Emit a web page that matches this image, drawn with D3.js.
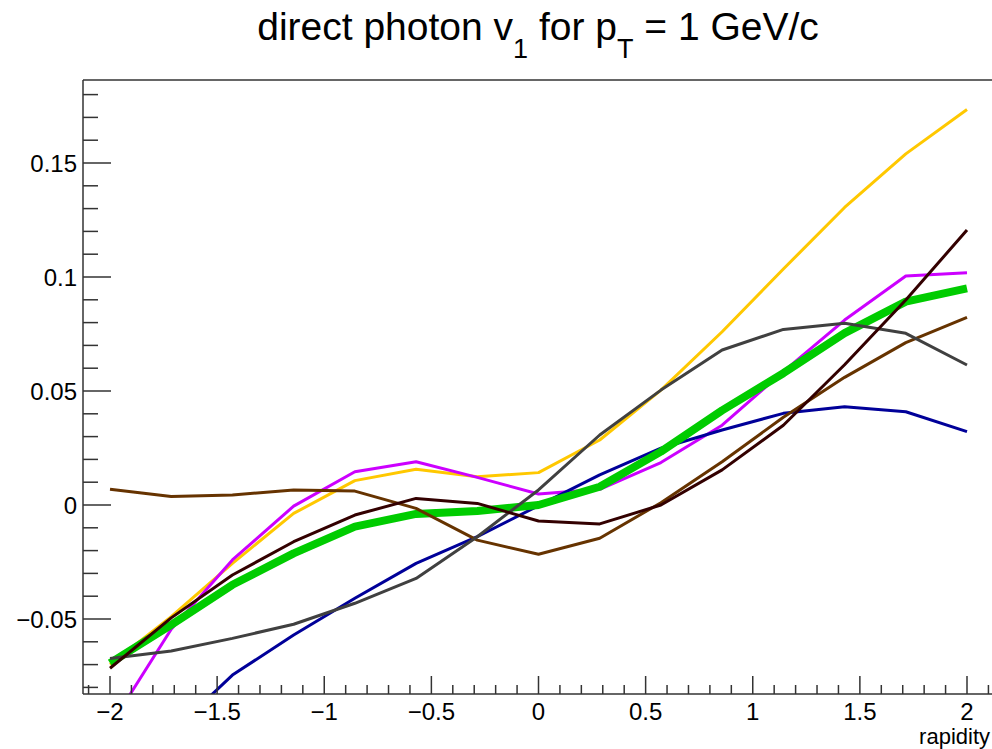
<!DOCTYPE html>
<html><head><meta charset="utf-8">
<script src="https://cdn.jsdelivr.net/npm/d3@7"></script>
<style>body{margin:0;background:#fff}svg{display:block;font-family:"Liberation Sans",Arial,sans-serif}</style>
</head><body>
<script>
const rapidity = [-2, -1.7143, -1.4286, -1.1429, -0.8571, -0.5714, -0.2857, 0, 0.2857, 0.5714, 0.8571, 1.1429, 1.4286, 1.7143, 2];
const yellowV  = [-0.070, -0.049, -0.0256, -0.0037, 0.0107, 0.0157, 0.0124, 0.0142, 0.0285, 0.0504, 0.0760, 0.1035, 0.1305, 0.1540, 0.1735];
const magentaV = [-0.097, -0.0545, -0.0241, -0.0005, 0.0146, 0.0190, 0.0121, 0.0048, 0.0069, 0.0186, 0.0350, 0.0585, 0.0811, 0.1004, 0.1019];
const blueV    = [-0.124, -0.100, -0.0746, -0.0570, -0.0409, -0.0256, -0.0139, -0.0003, 0.0132, 0.0249, 0.0329, 0.0402, 0.0431, 0.0409, 0.0322];
const grayV    = [-0.0673, -0.0640, -0.0585, -0.0523, -0.0431, -0.0322, -0.0139, 0.0066, 0.0307, 0.0504, 0.0680, 0.0770, 0.0797, 0.0753, 0.0614];
const brownV   = [0.0069, 0.0037, 0.0044, 0.0066, 0.0061, -0.0015, -0.0154, -0.0216, -0.0146, 0.0010, 0.0190, 0.0385, 0.0560, 0.0712, 0.0823];
const darkV    = [-0.0716, -0.0495, -0.0307, -0.0161, -0.0044, 0.0029, 0.0007, -0.0070, -0.0083, 0.0000, 0.0154, 0.0350, 0.0615, 0.0899, 0.1206];
const greenV   = [-0.0694, -0.0526, -0.0350, -0.0212, -0.0095, -0.0039, -0.0026, 0.0000, 0.0080, 0.0234, 0.0415, 0.0578, 0.0754, 0.0892, 0.0950];
const yTickLabels = ["\u22120.05", "0", "0.05", "0.1", "0.15"];
const yTickValues = [-0.05, 0, 0.05, 0.1, 0.15];
const xTickValues = [-2, -1.5, -1, -0.5, 0, 0.5, 1, 1.5, 2];
const xTickLabels = ["\u22122", "\u22121.5", "\u22121", "\u22120.5", "0", "0.5", "1", "1.5", "2"];

const series = [
  {vals: yellowV, color: "#ffc800", w: 3},
  {vals: magentaV, color: "#cc00ff", w: 3},
  {vals: blueV, color: "#000099", w: 3},
  {vals: greenV, color: "#00cc00", w: 8},
  {vals: brownV, color: "#663300", w: 3},
  {vals: grayV, color: "#404040", w: 3},
  {vals: darkV, color: "#330000", w: 3}
];

const W = 992, H = 749;
const L = 83, R = 998, T = 80, B = 694;
const x = d3.scaleLinear().domain([-2, 2]).range([110, 967]);
const y = d3.scaleLinear().domain([0, 0.15]).range([505, 163]);

const svg = d3.select("body").append("svg").attr("width", W).attr("height", H);
svg.append("defs").append("clipPath").attr("id", "clip")
  .append("rect").attr("x", L).attr("y", T).attr("width", R - L).attr("height", B - T);

const line = d3.line().x((d, i) => x(rapidity[i])).y(d => y(d));
const g = svg.append("g").attr("clip-path", "url(#clip)");
series.forEach(s => {
  g.append("path").attr("d", line(s.vals)).attr("fill", "none")
    .attr("stroke", s.color).attr("stroke-width", s.w).attr("stroke-linejoin", "round");
});

// frame
const ax = svg.append("g").attr("stroke", "#333").attr("stroke-width", 1.5);
ax.append("line").attr("x1", L).attr("x2", R).attr("y1", T).attr("y2", T);
ax.append("line").attr("x1", L).attr("x2", L).attr("y1", T).attr("y2", B);
ax.append("line").attr("x1", L).attr("x2", R).attr("y1", B).attr("y2", B);

// y ticks
const yMinor = d3.range(-8, 19).map(k => k / 100);
yMinor.forEach(v => {
  const major = Math.abs(Math.round(v * 100) % 5) === 0;
  ax.append("line").attr("x1", L).attr("x2", L + (major ? 28 : 15)).attr("y1", y(v)).attr("y2", y(v));
});
// x ticks
const xMinor = d3.range(-21, 22).map(k => k / 10);
xMinor.forEach(v => {
  const major = Math.abs(Math.round(v * 10) % 5) === 0;
  ax.append("line").attr("x1", x(v)).attr("x2", x(v)).attr("y1", B).attr("y2", B - (major ? 18 : 9));
});

svg.selectAll(".yl").data(yTickValues).enter().append("text")
  .attr("x", 77).attr("y", d => y(d)).attr("dy", "0.36em").attr("text-anchor", "end")
  .attr("font-size", 24).attr("fill", "#000").text((d, i) => yTickLabels[i]);
svg.selectAll(".xl").data(xTickValues).enter().append("text")
  .attr("x", d => x(d)).attr("y", 720).attr("text-anchor", "middle")
  .attr("font-size", 24).attr("fill", "#000").text((d, i) => xTickLabels[i]);
svg.append("text").attr("x", 990).attr("y", 744).attr("text-anchor", "end")
  .attr("font-size", 22).attr("fill", "#000").text("rapidity");

const title = svg.append("text").attr("x", 538).attr("y", 40).attr("text-anchor", "middle")
  .attr("font-size", 39).attr("fill", "#000");
title.append("tspan").text("direct photon v");
title.append("tspan").attr("dy", 18).attr("font-size", 27).text("1");
title.append("tspan").attr("dy", -18).text(" for p");
title.append("tspan").attr("dy", 18).attr("font-size", 27).text("T");
title.append("tspan").attr("dy", -18).text(" = 1 GeV/c");
</script>
</body></html>
